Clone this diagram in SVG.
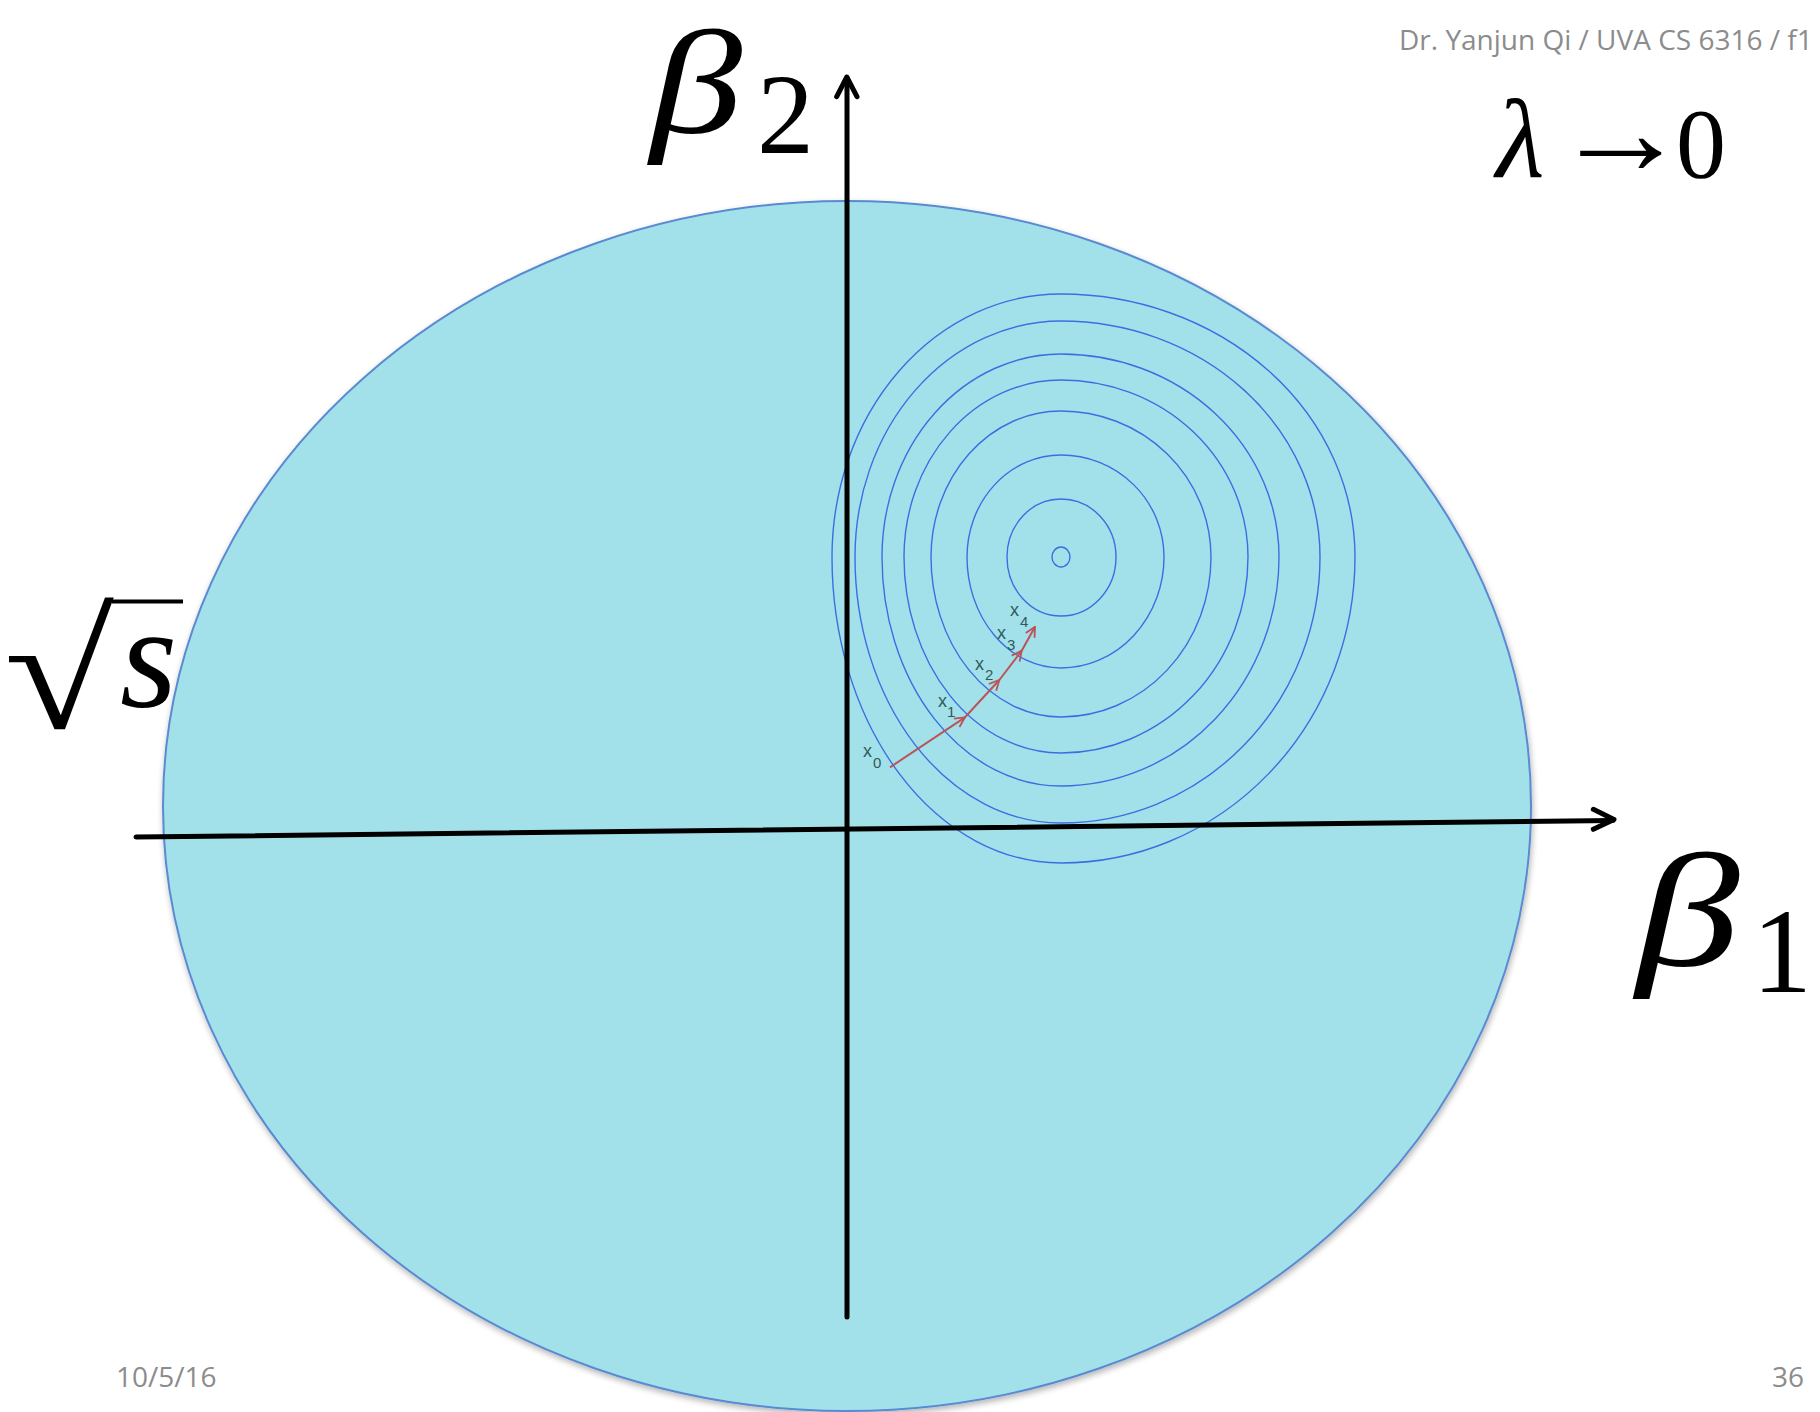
<svg xmlns="http://www.w3.org/2000/svg" width="1820" height="1412" viewBox="0 0 1820 1412">
<style>
.ring{fill:none;stroke:#3a6fe2;stroke-width:1.4}
.axis{stroke:#000;stroke-width:5;fill:none;stroke-linecap:round;stroke-linejoin:round}
.math{font-family:"Liberation Serif","DejaVu Serif",serif;fill:#000}
.it{font-style:italic}
.gray{font-family:"Open Sans","Liberation Sans",sans-serif;fill:#8c8c8c}
.step{stroke:#b9555a;stroke-width:2;fill:none}
.xl{font-family:"Liberation Sans",Arial,sans-serif;fill:#2f5a5a}
</style>
<defs>
<filter id="sh" x="-5%" y="-5%" width="110%" height="110%">
<feGaussianBlur in="SourceAlpha" stdDeviation="3"/>
<feOffset dx="1" dy="3" result="b"/>
<feComponentTransfer><feFuncA type="linear" slope="0.3"/></feComponentTransfer>
<feMerge><feMergeNode/><feMergeNode in="SourceGraphic"/></feMerge>
</filter>
<marker id="ah" viewBox="0 0 12 12" refX="11" refY="6" markerWidth="12" markerHeight="12" markerUnits="userSpaceOnUse" orient="auto">
<path d="M1,1 L11,6 L1,11" fill="none" stroke="#b9555a" stroke-width="1.8"/>
</marker>
</defs>

<g id="constraint-region">
<ellipse cx="847" cy="806" rx="684" ry="605" fill="#a2e1ea" stroke="#5a8ad2" stroke-width="2" filter="url(#sh)"/>
</g>

<g id="contours">
<ellipse cx="1061" cy="557" rx="9" ry="10" class="ring"/>
<path class="ring" d="M1116,557 A55 59 0 0 1 1061,616 A54 59 0 0 1 1007,557 A54 58 0 0 1 1061,499 A55 58 0 0 1 1116,557 Z"/>
<path class="ring" d="M1164,557 A103 111 0 0 1 1061,668 A94 111 0 0 1 967,557 A94 102 0 0 1 1061,455 A103 102 0 0 1 1164,557 Z"/>
<path class="ring" d="M1211,557 A150 160 0 0 1 1061,717 A130 160 0 0 1 931,557 A130 146 0 0 1 1061,411 A150 146 0 0 1 1211,557 Z"/>
<path class="ring" d="M1248,557 A187 196 0 0 1 1061,753 A157 196 0 0 1 904,557 A157 177 0 0 1 1061,380 A187 177 0 0 1 1248,557 Z"/>
<path class="ring" d="M1279,557 A218 229 0 0 1 1061,786 A179 229 0 0 1 882,557 A179 203 0 0 1 1061,354 A218 203 0 0 1 1279,557 Z"/>
<path class="ring" d="M1320,557 A259 266 0 0 1 1061,823 A206 266 0 0 1 855,557 A206 236 0 0 1 1061,321 A259 236 0 0 1 1320,557 Z"/>
<path class="ring" d="M1355,557 A294 306 0 0 1 1061,863 A229 306 0 0 1 832,557 A229 263 0 0 1 1061,294 A294 263 0 0 1 1355,557 Z"/>
</g>

<g id="connectors">
<g id="axes">
<line class="axis" x1="847" y1="1317" x2="847" y2="78"/>
<polyline class="axis" points="836.7,96.7 846.8,77 857,96.7"/>
<line class="axis" x1="136" y1="837" x2="1613" y2="820.5"/>
<polyline class="axis" points="1593.3,809.3 1614,819.5 1593.3,829.3"/>
</g>
<g id="descent-steps">
<line class="step" x1="890" y1="767.3" x2="965" y2="717.3" marker-end="url(#ah)"/>
<line class="step" x1="965" y1="717.3" x2="999.3" y2="680" marker-end="url(#ah)"/>
<line class="step" x1="999.3" y1="680" x2="1021.7" y2="650.7" marker-end="url(#ah)"/>
<line class="step" x1="1021.7" y1="650.7" x2="1035" y2="626.7" marker-end="url(#ah)"/>
</g>
</g>

<g id="step-labels">
<text class="xl" x="863" y="757" font-size="18">x</text><text class="xl" x="873" y="768" font-size="15">0</text>
<text class="xl" x="938" y="707" font-size="18">x</text><text class="xl" x="947" y="717" font-size="15">1</text>
<text class="xl" x="975" y="670" font-size="18">x</text><text class="xl" x="985" y="680" font-size="15">2</text>
<text class="xl" x="997" y="639" font-size="18">x</text><text class="xl" x="1007" y="650" font-size="15">3</text>
<text class="xl" x="1010" y="616" font-size="18">x</text><text class="xl" x="1020" y="627" font-size="15">4</text>
</g>

<g id="label-beta2">
<text class="math it" transform="translate(650,133) scale(1.25,1)" font-size="148">β</text>
<text class="math" x="757" y="153" font-size="114">2</text>
</g>
<g id="label-beta1">
<text class="math it" transform="translate(1636,965) scale(1.3,1)" font-size="160">β</text>
<text class="math" x="1752" y="992" font-size="120">1</text>
</g>
<g id="label-sqrt-s">
<text class="math"><tspan x="4" y="728" font-size="165" textLength="110" lengthAdjust="spacingAndGlyphs">√</tspan><tspan class="it" x="120" y="707" font-size="147">s</tspan></text>
<line x1="112" y1="601.5" x2="183" y2="601.5" stroke="#000" stroke-width="4"/>
</g>
<g id="label-lambda">
<text class="math"><tspan class="it" x="1496" y="177" font-size="112">λ</tspan><tspan x="1552" y="174" font-size="125" textLength="137" lengthAdjust="spacingAndGlyphs">→</tspan><tspan x="1676" y="177" font-size="100">0</tspan></text>
</g>

<g id="header">
<text class="gray" x="1399" y="50" font-size="28">Dr. Yanjun Qi / UVA CS 6316 / f1</text>
</g>
<g id="footer">
<text class="gray" x="116" y="1387" font-size="28">10/5/16</text>
<text class="gray" x="1804" y="1387" font-size="28" text-anchor="end">36</text>
</g>
</svg>
